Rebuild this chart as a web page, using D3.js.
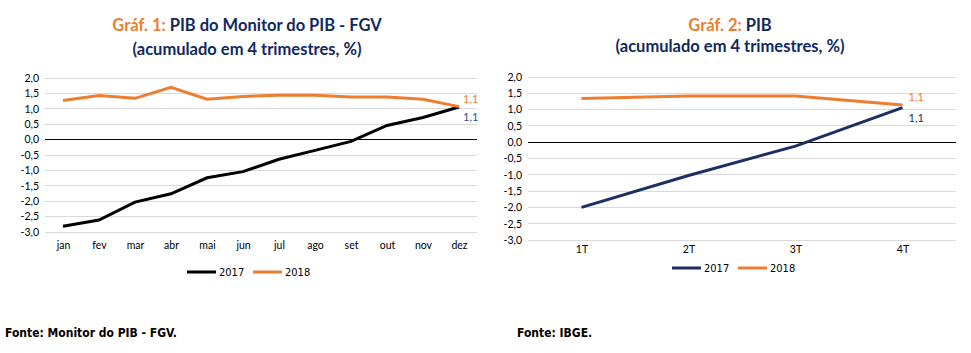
<!DOCTYPE html>
<html>
<head>
<meta charset="utf-8">
<script src="https://cdn.jsdelivr.net/npm/d3@7"></script>
<style>
  body { margin: 0; background: #fff; }
  text { font-family: Lato, "Open Sans", sans-serif; }
</style>
</head>
<body>
<div id="chart"></div>
<script>
// dados
var meses = ["jan","fev","mar","abr","mai","jun","jul","ago","set","out","nov","dez"];
var monitor2017 = [-2.81, -2.61, -2.03, -1.76, -1.24, -1.04, -0.64, -0.35, -0.06, 0.46, 0.72, 1.06];
var monitor2018 = [1.27, 1.43, 1.34, 1.70, 1.31, 1.40, 1.44, 1.44, 1.38, 1.38, 1.31, 1.07];

var trimestres = ["1T","2T","3T","4T"];
var ibge2017 = [-2.0, -1.02, -0.12, 1.06];
var ibge2018 = [1.34, 1.42, 1.42, 1.14];

var yTicks = [2, 1.5, 1, 0.5, 0, -0.5, -1, -1.5, -2, -2.5, -3];

var orange = "#ed7d31",
    navy = "#1b2f63",
    titleNavy = "#10295e";

var width = 971, height = 353;

var svg = d3.select("#chart").append("svg")
  .attr("width", width)
  .attr("height", height);

var fmt = function(v) { return d3.format(".1f")(v).replace(".", ",").replace("−", "-"); };

function drawChart(opt) {
  var g = svg.append("g");

  var x = d3.scalePoint()
    .domain(opt.cats)
    .range([opt.left, opt.right])
    .padding(0.5);

  var y = d3.scaleLinear()
    .domain([-3, 2])
    .range([opt.bottom, opt.top]);

  // grid
  g.selectAll(".grid").data(yTicks).enter().append("line")
    .attr("x1", opt.left).attr("x2", opt.right)
    .attr("y1", d => y(d)).attr("y2", d => y(d))
    .attr("stroke", d => d === 0 ? "#000" : "#d9d9d9")
    .attr("stroke-width", 1)
    .attr("shape-rendering", "crispEdges");

  // eixo y
  var yAxis = g.append("g")
    .attr("transform", "translate(" + (opt.left - 6) + ",0)")
    .call(d3.axisLeft(y).tickValues(yTicks).tickSize(0).tickPadding(0).tickFormat(fmt));
  yAxis.select(".domain").remove();
  yAxis.selectAll("text").attr("font-size", 10.5).attr("fill", "#000")
    .style("font-family", "Lato, sans-serif");

  // eixo x
  var xAxis = g.append("g")
    .attr("transform", "translate(0," + opt.xLabelY + ")")
    .call(d3.axisBottom(x).tickSize(0).tickPadding(0));
  xAxis.select(".domain").remove();
  xAxis.selectAll("text").attr("font-size", 10.5).attr("fill", "#000")
    .style("font-family", "Lato, sans-serif");

  var line = d3.line()
    .x((d, i) => x(opt.cats[i]))
    .y(d => y(d));

  g.append("path").datum(opt.s2017)
    .attr("d", line).attr("fill", "none")
    .attr("stroke", opt.color2017).attr("stroke-width", 3);

  g.append("path").datum(opt.s2018)
    .attr("d", line).attr("fill", "none")
    .attr("stroke", orange).attr("stroke-width", 3);

  var last = opt.cats.length - 1;
  g.append("text")
    .attr("x", x(opt.cats[last]) + opt.lblDx)
    .attr("y", y(opt.s2018[last]) - 4)
    .attr("font-size", 11).attr("fill", orange)
    .text(fmt(opt.s2018[last]));
  g.append("text")
    .attr("x", x(opt.cats[last]) + opt.lblDx)
    .attr("y", y(opt.s2017[last]) + 14)
    .attr("font-size", 11).attr("fill", opt.label2017)
    .text(fmt(opt.s2017[last]));

  // título
  var t = g.append("text")
    .attr("x", opt.titleX).attr("y", 31)
    .attr("text-anchor", "middle")
    .attr("font-size", 16.5).attr("font-weight", "bold");
  t.append("tspan").attr("fill", orange).text(opt.titleA);
  t.append("tspan").attr("fill", titleNavy).text(opt.titleB);
  g.append("text")
    .attr("x", opt.titleX).attr("y", opt.title2Y)
    .attr("text-anchor", "middle")
    .attr("font-size", 16.5).attr("font-weight", "bold")
    .attr("fill", titleNavy)
    .text("(acumulado em 4 trimestres, %)");

  // legenda
  var leg = g.append("g").attr("transform", "translate(" + opt.legX + "," + opt.legY + ")");
  [["2017", opt.color2017], ["2018", orange]].forEach(function(d, i) {
    var lg = leg.append("g").attr("transform", "translate(" + (i * 66) + ",0)");
    lg.append("line").attr("x1", 0).attr("x2", 29).attr("y1", 0).attr("y2", 0)
      .attr("stroke", d[1]).attr("stroke-width", 3);
    lg.append("text").attr("x", 32).attr("y", 4)
      .attr("font-size", 11).attr("fill", "#000")
      .style("font-family", "'Liberation Sans Narrow', 'DejaVu Sans Condensed', sans-serif")
      .text(d[0]);
  });

  // fonte
  g.append("text")
    .attr("x", opt.fonteX).attr("y", 337)
    .attr("font-size", 12).attr("font-weight", "bold").attr("fill", "#000")
    .style("font-family", "'Liberation Sans Narrow', 'DejaVu Sans Condensed', sans-serif")
    .text(opt.fonte);
}

drawChart({
  cats: meses, s2017: monitor2017, s2018: monitor2018,
  left: 45, right: 477, top: 78, bottom: 232, xLabelY: 242,
  color2017: "#000", label2017: "#2f4f8f", lblDx: 4,
  titleA: "Gráf. 1: ", titleB: "PIB do Monitor do PIB - FGV", titleX: 247, title2Y: 55,
  legX: 187, legY: 272, fonte: "Fonte: Monitor do PIB - FGV.", fonteX: 5
});

drawChart({
  cats: trimestres, s2017: ibge2017, s2018: ibge2018,
  left: 528, right: 956, top: 77, bottom: 240, xLabelY: 246,
  color2017: navy, label2017: navy, lblDx: 6,
  titleA: "Gráf. 2: ", titleB: "PIB", titleX: 730, title2Y: 52,
  legX: 672, legY: 268, fonte: "Fonte: IBGE.", fonteX: 517
});
</script>
</body>
</html>
